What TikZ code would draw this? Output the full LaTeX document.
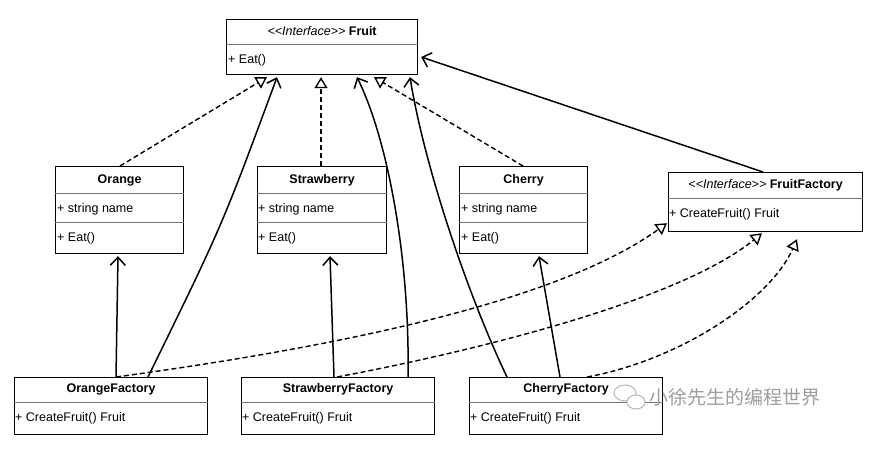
\documentclass[tikz,border=0pt]{standalone}
\usepackage{fontspec}
\setmainfont{Liberation Sans}
\newfontfamily\cjk{Noto Sans CJK SC}
\usetikzlibrary{arrows.meta,calc}
\newcommand{\stereo}[1]{\textmd{\textit{\textless\kern0pt\textless#1\textgreater\kern0pt\textgreater}}}
\begin{document}
\begin{tikzpicture}[x=1pt,y=-1pt,
  box/.style={draw, line width=1.2pt, fill=white, inner sep=0pt, anchor=north west},
  ttl/.style={font=\fontsize{12.5}{14}\selectfont\bfseries, anchor=center, inner sep=0pt},
  mem/.style={font=\fontsize{12.5}{14}\selectfont, anchor=west, inner sep=0pt},
  divline/.style={line width=0.6pt, draw=black!55},
  dep/.style={line width=1.4pt, dash pattern=on 5pt off 3pt, -{Triangle[open, length=11pt, width=13pt, line width=1.4pt]}},
  assoc/.style={line width=1.5pt, -{Straight Barb[length=8pt, width=15pt, line width=1.5pt]}},
]
\useasboundingbox (0,0) rectangle (891,448);
\fill[white] (0,0) rectangle (891,448);

% ---- Fruit
\node[box, minimum width=191pt, minimum height=55pt] (fruit) at (226,19) {};
\draw[divline] ($(fruit.north west)+(0,25)$) -- ($(fruit.north east)+(0,25)$);
\node[ttl] (fruitT) at ($(fruit.north)+(0,12)$) {\stereo{Interface} Fruit};
\node[mem] (fruitM) at ($(fruit.north west)+(2,41)$) {+ Eat()};

% ---- Orange
\node[box, minimum width=128pt, minimum height=87pt] (orange) at (55,166) {};
\draw[divline] ($(orange.north west)+(0,27)$) -- ($(orange.north east)+(0,27)$);
\draw[divline] ($(orange.north west)+(0,56)$) -- ($(orange.north east)+(0,56)$);
\node[ttl] (orangeT) at ($(orange.north)+(0,14)$) {Orange};
\node[mem] (orangeA) at ($(orange.north west)+(2,43)$) {+ string name};
\node[mem] (orangeM) at ($(orange.north west)+(2,72)$) {+ Eat()};

% ---- Strawberry
\node[box, minimum width=129pt, minimum height=87pt] (straw) at (257,166) {};
\draw[divline] ($(straw.north west)+(0,27)$) -- ($(straw.north east)+(0,27)$);
\draw[divline] ($(straw.north west)+(0,56)$) -- ($(straw.north east)+(0,56)$);
\node[ttl] (strawT) at ($(straw.north)+(0,14)$) {Strawberry};
\node[mem] (strawA) at ($(straw.north west)+(1,43)$) {+ string name};
\node[mem] (strawM) at ($(straw.north west)+(1,72)$) {+ Eat()};

% ---- Cherry
\node[box, minimum width=128pt, minimum height=87pt] (cherry) at (459,166) {};
\draw[divline] ($(cherry.north west)+(0,27)$) -- ($(cherry.north east)+(0,27)$);
\draw[divline] ($(cherry.north west)+(0,56)$) -- ($(cherry.north east)+(0,56)$);
\node[ttl] (cherryT) at ($(cherry.north)+(0,14)$) {Cherry};
\node[mem] (cherryA) at ($(cherry.north west)+(2,43)$) {+ string name};
\node[mem] (cherryM) at ($(cherry.north west)+(2,72)$) {+ Eat()};

% ---- FruitFactory
\node[box, minimum width=194pt, minimum height=59pt] (ff) at (668,172) {};
\draw[divline] ($(ff.north west)+(0,26)$) -- ($(ff.north east)+(0,26)$);
\node[ttl] (ffT) at ($(ff.north)+(0,13)$) {\stereo{Interface} FruitFactory};
\node[mem] (ffM) at ($(ff.north west)+(1,42)$) {+ CreateFruit() Fruit};

% ---- Factories
\node[box, minimum width=193pt, minimum height=57pt] (of) at (14,377) {};
\draw[divline] ($(of.north west)+(0,25)$) -- ($(of.north east)+(0,25)$);
\node[ttl] (ofT) at ($(of.north)+(0,12)$) {OrangeFactory};
\node[mem] (ofM) at ($(of.north west)+(1,41)$) {+ CreateFruit() Fruit};

\node[box, minimum width=193pt, minimum height=57pt] (sf) at (241,377) {};
\draw[divline] ($(sf.north west)+(0,25)$) -- ($(sf.north east)+(0,25)$);
\node[ttl] (sfT) at ($(sf.north)+(0,12)$) {StrawberryFactory};
\node[mem] (sfM) at ($(sf.north west)+(1,41)$) {+ CreateFruit() Fruit};

\node[box, minimum width=193pt, minimum height=57pt] (cf) at (469,377) {};
\draw[divline] ($(cf.north west)+(0,25)$) -- ($(cf.north east)+(0,25)$);
\node[ttl] (cfT) at ($(cf.north)+(0,12)$) {CherryFactory};
\node[mem] (cfM) at ($(cf.north west)+(1,41)$) {+ CreateFruit() Fruit};

% ---- realization / inheritance (dashed, open triangle)
\draw[dep] ($(orange.north west)+(65,0)$) -- ($(fruit.south west)+(41,2)$);
\draw[dep] ($(straw.north west)+(64,0)$) -- ($(fruit.south west)+(95,2)$);
\draw[dep] ($(cherry.north west)+(64,0)$) -- ($(fruit.south west)+(148,2)$);
\draw[dep] ($(of.north west)+(102,0)$) .. controls (350,345) and (560,300) .. ($(ff.south west)+(-1,-9)$);
\draw[dep] ($(sf.north west)+(96,0)$) .. controls (480,350) and (680,300) .. ($(ff.south west)+(94,1)$);
\draw[dep] ($(cf.north west)+(118,0)$) .. controls (680,360) and (770,300) .. ($(ff.south west)+(129,7)$);

% ---- associations (solid, open arrow)
\draw[assoc] ($(of.north west)+(102,0)$) -- ($(orange.south west)+(63,2)$);
\draw[assoc] ($(sf.north west)+(93,0)$) -- ($(straw.south west)+(73,2)$);
\draw[assoc] ($(cf.north west)+(91,0)$) -- ($(cherry.south west)+(80,2)$);
\draw[assoc] ($(of.north west)+(134,0)$) .. controls (222,226) .. ($(fruit.south west)+(51,2)$);
\draw[assoc] ($(sf.north west)+(167,0)$) .. controls (410,260) and (388,140) .. ($(fruit.south west)+(131,2)$);
\draw[assoc] ($(cf.north west)+(38,0)$) .. controls (470,300) and (425,170) .. ($(fruit.south west)+(184,2)$);
\draw[assoc] ($(ff.north west)+(95,0)$) -- ($(fruit.north east)+(3,38)$);

% ---- watermark
\begin{scope}[draw=black!28, line width=1pt]
  \draw (625,393) ellipse [x radius=11pt, y radius=8pt];
  \draw[fill=white] (636,402) ellipse [x radius=9pt, y radius=7pt];
\end{scope}
\node[font=\cjk\fontsize{19}{21}\selectfont, text=black!38, anchor=west, inner sep=0pt] (wm) at (649,397) {小徐先生的编程世界};
\end{tikzpicture}
\end{document}
